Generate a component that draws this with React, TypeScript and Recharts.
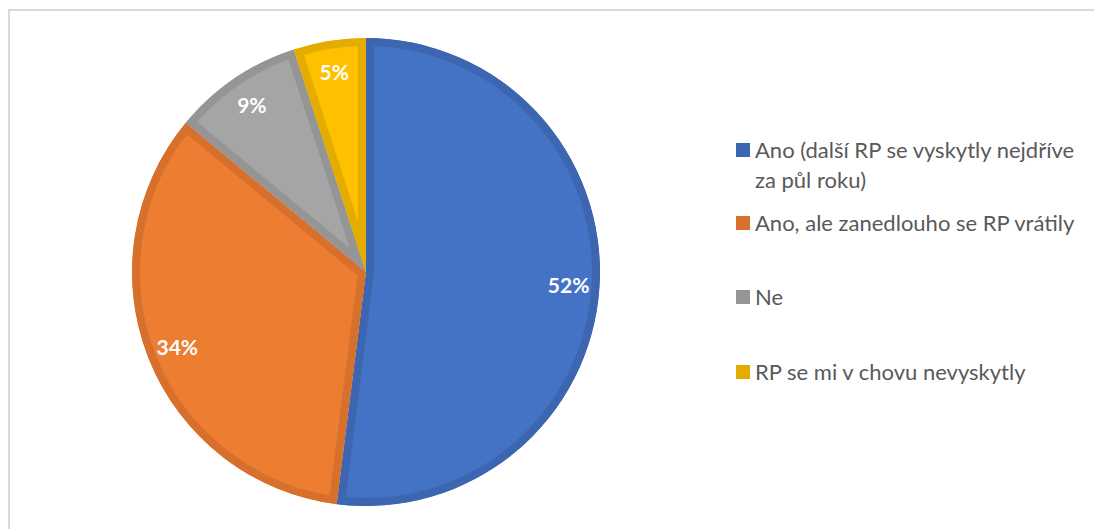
import { PieChart, Pie, Sector, Legend } from 'recharts';

const categories = [
  'Ano (další RP se vyskytly nejdříve za půl roku)',
  'Ano, ale zanedlouho se RP vrátily',
  'Ne',
  'RP se mi v chovu nevyskytly',
];
const values = [52, 34, 9, 5];
const fills = ['#4472C4', '#ED7D31', '#A5A5A5', '#FFC000'];
const borders = ['#3C66B0', '#D6702C', '#959595', '#E5AC00'];

const data = categories.map((name, i) => ({ name, value: values[i] }));

const RAD = Math.PI / 180;

function BorderedSector(props: any) {
  const { cx, cy, innerRadius, outerRadius, startAngle, endAngle } = props;
  const name = props.payload?.name ?? props.name;
  const i = Math.max(0, categories.indexOf(name));
  const id = `slice-clip-${i}`;
  return (
    <g>
      <defs>
        <clipPath id={id}>
          <Sector
            cx={cx}
            cy={cy}
            innerRadius={innerRadius}
            outerRadius={outerRadius}
            startAngle={startAngle}
            endAngle={endAngle}
          />
        </clipPath>
      </defs>
      <Sector
        cx={cx}
        cy={cy}
        innerRadius={innerRadius}
        outerRadius={outerRadius}
        startAngle={startAngle}
        endAngle={endAngle}
        fill={fills[i]}
        stroke={borders[i]}
        strokeWidth={16}
        clipPath={`url(#${id})`}
      />
    </g>
  );
}

function renderLabel(props: any) {
  const { cx, cy, midAngle, outerRadius, value } = props;
  const r = outerRadius - 31;
  const x = cx + r * Math.cos(-midAngle * RAD);
  const y = cy + r * Math.sin(-midAngle * RAD);
  return (
    <text
      x={x}
      y={y}
      fill="#ffffff"
      textAnchor="middle"
      dominantBaseline="central"
      fontFamily="Lato, 'Open Sans', sans-serif"
      fontWeight={700}
      fontSize={21}
    >
      {`${value}%`}
    </text>
  );
}

// spacing under each legend row
const legendGaps = [13, 44, 45, 0];

function renderLegend() {
  return (
    <div style={{ fontFamily: "Lato, 'Open Sans', sans-serif", fontSize: 22, color: '#595959' }}>
      {categories.map((name, i) => (
        <div
          key={name}
          style={{ display: 'flex', alignItems: 'flex-start', marginBottom: legendGaps[i], lineHeight: '30px' }}
        >
          <span
            style={{
              display: 'inline-block',
              width: 14,
              height: 14,
              background: borders[i],
              marginTop: 8,
              marginRight: 5,
              flexShrink: 0,
            }}
          />
          <span style={{ width: 335 }}>{name}</span>
        </div>
      ))}
    </div>
  );
}

export default function App() {
  return (
    <div style={{ position: 'relative', width: 1094, height: 529, background: '#ffffff' }}>
      <style>{'body{margin:0}'}</style>
      <div
        style={{
          position: 'absolute',
          left: 8,
          top: 9,
          width: 1100,
          height: 540,
          borderTop: '2px solid #d9d9d9',
          borderLeft: '2px solid #d9d9d9',
        }}
      />
      <div style={{ position: 'absolute', left: 0, top: 0 }}>
        <PieChart width={1094} height={529} margin={{ top: 0, right: 0, bottom: 0, left: 0 }}>
          <Pie
            data={data}
            dataKey="value"
            nameKey="name"
            cx={366}
            cy={272}
            outerRadius={234}
            startAngle={90}
            endAngle={-270}
            shape={BorderedSector}
            label={renderLabel}
            labelLine={false}
            isAnimationActive={false}
          />
          <Legend
            content={renderLegend}
            layout="vertical"
            verticalAlign="top"
            align="right"
            wrapperStyle={{ left: 736, top: 135, width: 350 }}
          />
        </PieChart>
      </div>
    </div>
  );
}
